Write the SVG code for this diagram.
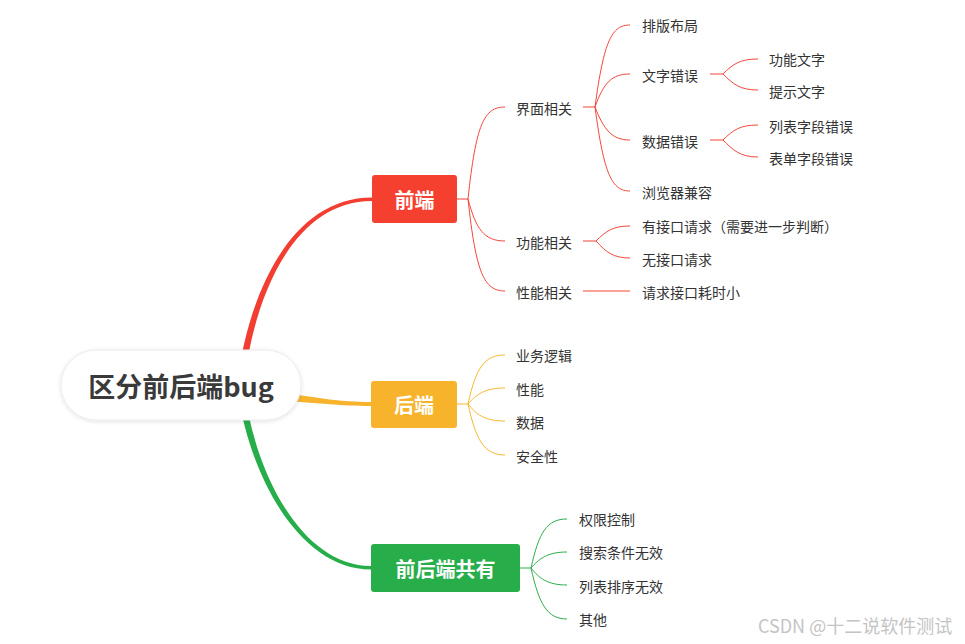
<svg xmlns="http://www.w3.org/2000/svg" width="965" height="644" viewBox="0 0 965 644">
<defs>
<style>
text{font-family:"Noto Sans CJK SC","Liberation Sans",sans-serif;}
.lbl{font-size:14px;fill:#333;dominant-baseline:central;}
.main{font-size:20px;font-weight:bold;fill:#fff;text-anchor:middle;dominant-baseline:central;}
.r{stroke:#F4473A;fill:none;stroke-width:1;}
.y{stroke:#F8B830;fill:none;stroke-width:1;}
.g{stroke:#2DAE4C;fill:none;stroke-width:1;}
</style>
<filter id="sh" x="-10%" y="-20%" width="120%" height="140%">
<feDropShadow dx="0" dy="1" stdDeviation="2" flood-color="#000" flood-opacity="0.12"/>
</filter>
</defs>
<rect width="965" height="644" fill="#fff"/>
<g id="connectors">
<path d="M237 385 C247 300 288 197.5 372 197.5 L372 201 C292 201 253 300 244 385 Z" fill="#F23E30"/>
<path d="M285 393 C320 398 340 402 371 402 L371 406 C340 406 320 403 285 401 Z" fill="#F7B32B"/>
<path d="M237 385 C247 470 297 569.5 371 569.5 L371 566 C301 566 253 470 244 385 Z" fill="#27AE4A"/>
<!-- front-end -->
<path class="r" d="M457 199 H468"/>
<path class="r" d="M468 199 C476 124 484 107 505 107"/>
<path class="r" d="M468 199 C476 229 484 241 505 241"/>
<path class="r" d="M468 199 C476 273 484 291 505 291"/>
<path class="r" d="M583 107 H595"/>
<path class="r" d="M595 107 C604 40 612 25 630 25"/>
<path class="r" d="M595 107 C604 82 612 74 630 74"/>
<path class="r" d="M595 107 C604 130 612 140 630 140"/>
<path class="r" d="M595 107 C604 175 612 191 630 191"/>
<path class="r" d="M710 74 H723"/>
<path class="r" d="M723 74 C733 64 740 59 758 59"/>
<path class="r" d="M723 74 C733 84 740 90 758 90"/>
<path class="r" d="M710 140 H723"/>
<path class="r" d="M723 140 C733 130 740 125 758 125"/>
<path class="r" d="M723 140 C733 150 740 157 758 157"/>
<path class="r" d="M583 241 H596"/>
<path class="r" d="M596 241 C606 231 613 226 630 226"/>
<path class="r" d="M596 241 C606 252 613 258 630 258"/>
<path class="r" d="M583 291 H630"/>
<!-- back-end -->
<path class="y" d="M457 404 H468"/>
<path class="y" d="M468 404 C476 368 484 355 505 355"/>
<path class="y" d="M468 404 C476 395 484 388 505 388"/>
<path class="y" d="M468 404 C476 414 484 421 505 421"/>
<path class="y" d="M468 404 C476 440 484 455 505 455"/>
<!-- shared -->
<path class="g" d="M520 568 H531"/>
<path class="g" d="M531 568 C539 532 547 519 567 519"/>
<path class="g" d="M531 568 C539 559 547 552 567 552"/>
<path class="g" d="M531 568 C539 578 547 585 567 585"/>
<path class="g" d="M531 568 C539 604 547 619 567 619"/>
</g>
<g id="root">
<rect x="61" y="350" width="240" height="70" rx="35" fill="#fff" stroke="#ececec" filter="url(#sh)"/>
<text x="181" y="385" font-size="27" font-weight="bold" fill="#3a3a3a" text-anchor="middle" dominant-baseline="central">区分前后端bug</text>
</g>
<g id="frontend">
<rect x="372" y="175" width="85" height="48" rx="3" fill="#F53F2F"/>
<text class="main" x="414.5" y="199">前端</text>
</g>
<g id="backend">
<rect x="371" y="381" width="86" height="47" rx="3" fill="#F7B32B"/>
<text class="main" x="414" y="404.5">后端</text>
</g>
<g id="shared">
<rect x="371" y="544" width="149" height="48" rx="3" fill="#27AE4A"/>
<text class="main" x="445.5" y="568">前后端共有</text>
</g>
<g id="n-jiemian"><text class="lbl" x="516" y="108">界面相关</text></g>
<g id="n-gongneng"><text class="lbl" x="516" y="242">功能相关</text></g>
<g id="n-xingneng"><text class="lbl" x="516" y="292">性能相关</text></g>
<g id="n-paiban"><text class="lbl" x="642" y="25">排版布局</text></g>
<g id="n-wenzi"><text class="lbl" x="642" y="75">文字错误</text></g>
<g id="n-shuju"><text class="lbl" x="642" y="141">数据错误</text></g>
<g id="n-liulanqi"><text class="lbl" x="642" y="192">浏览器兼容</text></g>
<g id="n-gnwz"><text class="lbl" x="769" y="59">功能文字</text></g>
<g id="n-tswz"><text class="lbl" x="769" y="91">提示文字</text></g>
<g id="n-lbzd"><text class="lbl" x="769" y="126">列表字段错误</text></g>
<g id="n-bdzd"><text class="lbl" x="769" y="158">表单字段错误</text></g>
<g id="n-you"><text class="lbl" x="642" y="226">有接口请求（需要进一步判断）</text></g>
<g id="n-wu"><text class="lbl" x="642" y="259">无接口请求</text></g>
<g id="n-haoshi"><text class="lbl" x="642" y="292">请求接口耗时小</text></g>
<g id="n-yewu"><text class="lbl" x="516" y="355">业务逻辑</text></g>
<g id="n-be-xn"><text class="lbl" x="516" y="389">性能</text></g>
<g id="n-be-sj"><text class="lbl" x="516" y="422">数据</text></g>
<g id="n-anquan"><text class="lbl" x="516" y="456">安全性</text></g>
<g id="n-quanxian"><text class="lbl" x="579" y="519">权限控制</text></g>
<g id="n-sousuo"><text class="lbl" x="579" y="552">搜索条件无效</text></g>
<g id="n-paixu"><text class="lbl" x="579" y="586">列表排序无效</text></g>
<g id="n-qita"><text class="lbl" x="579" y="619">其他</text></g>
<text x="758" y="633" font-size="18" fill="#c4c4c4">CSDN @十二说软件测试</text>
</svg>
